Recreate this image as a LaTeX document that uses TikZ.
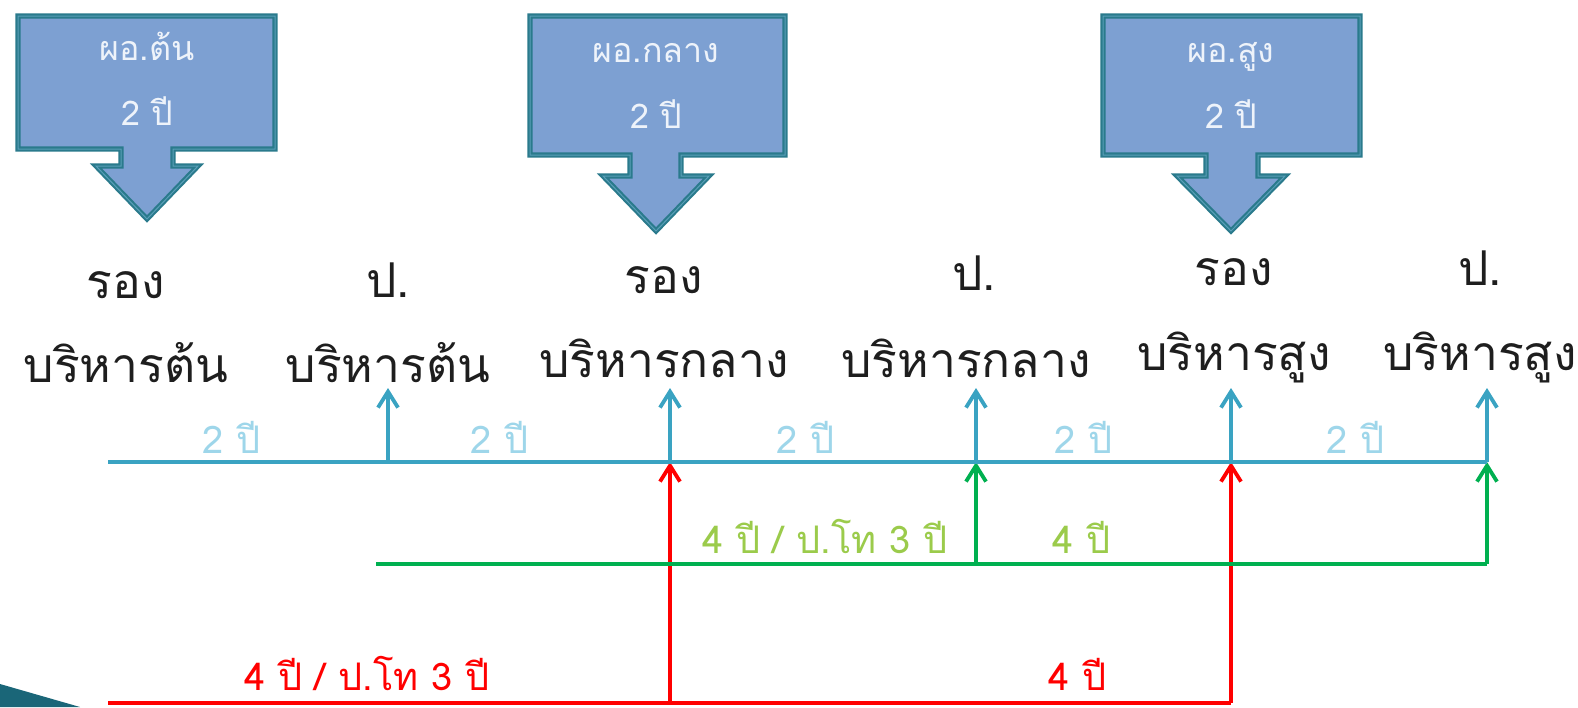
\documentclass[tikz,border=0pt]{standalone}
\usepackage{fontspec}
\newfontfamily\thai[Script=Thai]{Loma}
\usetikzlibrary{arrows.meta}
\definecolor{boxfill}{HTML}{7DA0D2}
\definecolor{boxline}{HTML}{2A7A8C}
\definecolor{boxinner}{HTML}{5A9FB8}
\definecolor{boxtext}{HTML}{EEF3FA}
\definecolor{tl}{HTML}{3AA3C2}
\definecolor{tltext}{HTML}{9ED6EA}
\definecolor{gl}{HTML}{00B050}
\definecolor{gltext}{HTML}{9BCB4B}
\definecolor{rl}{HTML}{FF0000}
\definecolor{deco}{HTML}{1A6678}
\definecolor{labelblack}{HTML}{1E1E1E}
\begin{document}
\begin{tikzpicture}[x=0.5pt,y=-0.5pt,
  callout/.style={fill=boxfill, draw=boxline, line width=2.6pt, line join=miter,
    postaction={draw=boxinner, line width=0.5pt}},
  boxtext/.style={font=\thai\fontsize{17}{20}\selectfont, text=boxtext, anchor=base, inner sep=0pt},
  lbl/.style={font=\thai\fontsize{24}{28}\selectfont, text=labelblack, anchor=base, inner sep=0pt, text depth=0pt},
  yrs/.style={font=\thai\fontsize{19}{22}\selectfont, anchor=base, inner sep=0pt, text depth=0pt},
  tline/.style={draw=tl, line width=2.1pt},
  gline/.style={draw=gl, line width=2.1pt},
  rline/.style={draw=rl, line width=2.1pt},
  tarrow/.style={draw=tl, line width=1.9pt, -{Straight Barb[length=8pt,width=10pt]}},
  garrow/.style={draw=gl, line width=1.9pt, -{Straight Barb[length=8pt,width=10pt]}},
  rarrow/.style={draw=rl, line width=1.9pt, -{Straight Barb[length=8pt,width=10pt]}}
]
\useasboundingbox (0,0) rectangle (1578,707);
\fill[white] (0,0) rectangle (1578,707);
% decoration bottom-left
\fill[deco] (0,684) -- (80,707) -- (0,707) -- cycle;

% callouts
\path[callout] (18,16) -- (275,16) -- (275,149) -- (173,149) -- (173,166) -- (198,166) -- (147,219) -- (96,166) -- (121,166) -- (121,149) -- (18,149) -- cycle;
\node[boxtext] (c1a) at (147,60) {ผอ.ต้น};
\node[boxtext] (c1b) at (147,125) {2 ปี};

\path[callout] (530,16) -- (785,16) -- (785,155) -- (681,155) -- (681,176) -- (709,176) -- (656,231) -- (603,176) -- (630,176) -- (630,155) -- (530,155) -- cycle;
\node[boxtext] (c2a) at (656,62) {ผอ.กลาง};
\node[boxtext] (c2b) at (656,128) {2 ปี};

\path[callout] (1103,16) -- (1360,16) -- (1360,155) -- (1258,155) -- (1258,176) -- (1285,176) -- (1231,231) -- (1177,176) -- (1206,176) -- (1206,155) -- (1103,155) -- cycle;
\node[boxtext] (c3a) at (1231,62) {ผอ.สูง};
\node[boxtext] (c3b) at (1231,128) {2 ปี};

% position labels
\node[lbl] (p1a) at (126,298) {รอง};
\node[lbl] (p1b) at (126,382) {บริหารต้น};
\node[lbl] (p2a) at (388,297) {ป.};
\node[lbl] (p2b) at (388,382) {บริหารต้น};
\node[lbl] (p3a) at (664,293) {รอง};
\node[lbl] (p3b) at (664,377) {บริหารกลาง};
\node[lbl] (p4a) at (974,290) {ป.};
\node[lbl] (p4b) at (966,377) {บริหารกลาง};
\node[lbl] (p5a) at (1234,285) {รอง};
\node[lbl] (p5b) at (1234,370) {บริหารสูง};
\node[lbl] (p6a) at (1480,285) {ป.};
\node[lbl] (p6b) at (1480,370) {บริหารสูง};

% timeline coordinates
\coordinate (t0) at (108,462);
\coordinate (t1) at (388,462);
\coordinate (t2) at (670,462);
\coordinate (t3) at (976,462);
\coordinate (t4) at (1231,462);
\coordinate (t5) at (1487,462);
\coordinate (a1) at (388,388);
\coordinate (a2) at (670,388);
\coordinate (a3) at (976,388);
\coordinate (a4) at (1231,388);
\coordinate (a5) at (1487,388);
\coordinate (g0) at (376,564);
\coordinate (g3) at (976,564);
\coordinate (g5) at (1487,564);
\coordinate (r0) at (108,703);
\coordinate (r2) at (670,703);
\coordinate (r4) at (1231,703);

% red
\draw[rline] (r0) -- (r4);
\draw[rarrow] (r2) -- (t2);
\draw[rarrow] (r4) -- (t4);
% green
\draw[gline] (g0) -- (g5);
\draw[garrow] (g3) -- (t3);
\draw[garrow] (g5) -- (t5);
% teal
\draw[tline] (t0) -- (t5);
\draw[tarrow] (t1) -- (a1);
\draw[tarrow] (t2) -- (a2);
\draw[tarrow] (t3) -- (a3);
\draw[tarrow] (t4) -- (a4);
\draw[tarrow] (t5) -- (a5);

% year labels
\node[yrs, text=tltext] (y1) at (232,453) {2 ปี};
\node[yrs, text=tltext] (y2) at (500,453) {2 ปี};
\node[yrs, text=tltext] (y3) at (806,453) {2 ปี};
\node[yrs, text=tltext] (y4) at (1084,453) {2 ปี};
\node[yrs, text=tltext] (y5) at (1356,453) {2 ปี};
\node[yrs, text=gltext] (g1) at (825,553) {4 ปี / ป.โท 3 ปี};
\node[yrs, text=gltext] (g2) at (1082,553) {4 ปี};
\node[yrs, text=rl] (rr1) at (367,690) {4 ปี / ป.โท 3 ปี};
\node[yrs, text=rl] (rr2) at (1078,690) {4 ปี};
\end{tikzpicture}
\end{document}
